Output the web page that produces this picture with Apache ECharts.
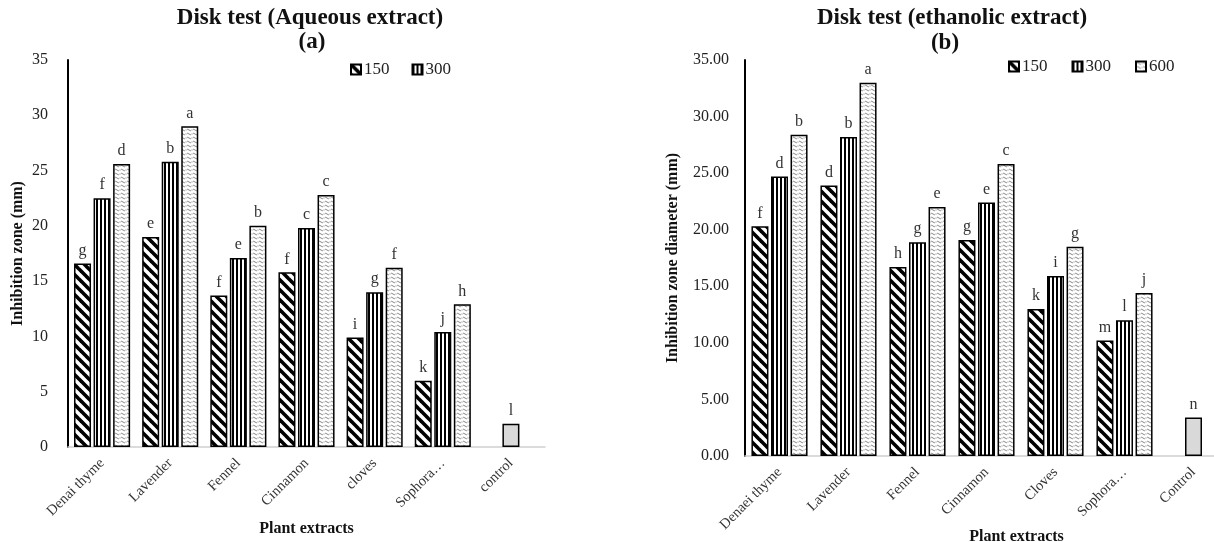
<!DOCTYPE html>
<html>
<head>
<meta charset="utf-8">
<script src="https://cdn.jsdelivr.net/npm/echarts@6/dist/echarts.min.js"></script>
<style>
html,body{margin:0;padding:0;background:#fff}
#main{width:1214px;height:542px}
</style>
</head>
<body>
<div id="main"></div>
<script>
/* global echarts */
// data - aqueous (a)
var catsA = ['Denai thyme', 'Lavender', 'Fennel', 'Cinnamon', 'cloves', 'Sophora\u2026', 'control'];
var aq150 = [16.6, 19.0, 13.7, 15.8, 9.9, 6.0, null];
var aq300 = [22.5, 25.8, 17.1, 19.8, 14.0, 10.4, null];
var aq600 = [25.6, 29.0, 20.0, 22.8, 16.2, 12.9, null];
var aqControl = [null, null, null, null, null, null, 2.1];
var aqLet150 = ['g', 'e', 'f', 'f', 'i', 'k', ''];
var aqLet300 = ['f', 'b', 'e', 'c', 'g', 'j', ''];
var aqLet600 = ['d', 'a', 'b', 'c', 'f', 'h', ''];
var aqLetControl = ['', '', '', '', '', '', 'l'];

// data - ethanolic (b)
var catsB = ['Denaei thyme', 'Lavender', 'Fennel', 'Cinnamon', 'Cloves', 'Sophora\u2026', 'Control'];
var et150 = [20.3, 23.9, 16.7, 19.1, 13.0, 10.2, null];
var et300 = [24.7, 28.2, 18.9, 22.4, 15.9, 12.0, null];
var et600 = [28.4, 33.0, 22.0, 25.8, 18.5, 14.4, null];
var etControl = [null, null, null, null, null, null, 3.4];
var etLet150 = ['f', 'd', 'h', 'g', 'k', 'm', ''];
var etLet300 = ['d', 'b', 'g', 'e', 'i', 'l', ''];
var etLet600 = ['b', 'a', 'e', 'c', 'g', 'j', ''];
var etLetControl = ['', '', '', '', '', '', 'n'];

var yTicks = [0, 5, 10, 15, 20, 25, 30, 35];

var FONT = 'Liberation Serif, Times New Roman, serif';

// fill patterns
function diagPattern() {
    var c = document.createElement('canvas');
    c.width = 10; c.height = 10;
    var g = c.getContext('2d');
    g.fillStyle = '#fff'; g.fillRect(0, 0, 10, 10);
    g.strokeStyle = '#000'; g.lineWidth = 3.6;
    for (var k = -1; k <= 1; k++) {
        g.beginPath();
        g.moveTo(k * 10 - 2, -2);
        g.lineTo(k * 10 + 12, 12);
        g.stroke();
    }
    return c;
}
function vertPattern() {
    var c = document.createElement('canvas');
    c.width = 4; c.height = 4;
    var g = c.getContext('2d');
    g.fillStyle = '#fff'; g.fillRect(0, 0, 4, 4);
    g.fillStyle = '#000'; g.fillRect(0, 0, 2, 4);
    return c;
}
function wavePattern() {
    var c = document.createElement('canvas');
    c.width = 6; c.height = 4;
    var g = c.getContext('2d');
    g.fillStyle = '#fff'; g.fillRect(0, 0, 6, 4);
    g.strokeStyle = '#777'; g.lineWidth = 0.9;
    g.beginPath();
    g.moveTo(0.5, 2);
    g.quadraticCurveTo(1.5, 0.5, 3, 2);
    g.quadraticCurveTo(4.5, 3.5, 5.5, 2);
    g.stroke();
    return c;
}
var fill150 = {image: diagPattern(), repeat: 'repeat'};
var fill300 = {image: vertPattern(), repeat: 'repeat'};
var fill600 = {image: wavePattern(), repeat: 'repeat'};

function barSeries(name, data, letters, fill, xi, yi) {
    return {
        name: name,
        type: 'bar',
        xAxisIndex: xi,
        yAxisIndex: yi,
        data: data,
        barWidth: 17,
        barGap: '15%',
        itemStyle: {color: fill, borderColor: '#000', borderWidth: 1.5},
        label: {
            show: true,
            position: 'top',
            distance: 5,
            fontFamily: FONT,
            fontSize: 16,
            color: '#333',
            formatter: function (p) { return letters[p.dataIndex] || ''; }
        },
        emphasis: {disabled: true},
        animation: false
    };
}

function catAxis(grid, cats, show) {
    return {
        gridIndex: grid,
        type: 'category',
        data: cats,
        show: show,
        axisLine: {lineStyle: {color: '#d0d0d0', width: 1.5}},
        axisTick: {show: false},
        axisLabel: {interval: 0, rotate: 45, fontFamily: FONT, fontSize: 14.5, color: '#333', margin: 14},
        name: 'Plant extracts',
        nameLocation: 'middle',
        nameMoveOverlap: false,
        nameTextStyle: {fontFamily: FONT, fontWeight: 'bold', fontSize: 16, color: '#111'}
    };
}

function valAxis(grid, name, gap, margin, fmt) {
    return {
        gridIndex: grid, type: 'value', min: yTicks[0], max: yTicks[yTicks.length - 1], interval: 5,
        axisLine: {show: true, lineStyle: {color: '#000', width: 2}},
        axisTick: {show: false},
        splitLine: {show: false},
        axisLabel: {fontFamily: FONT, fontSize: 16, color: '#222', margin: margin, formatter: fmt},
        name: name, nameLocation: 'middle', nameGap: gap,
        nameMoveOverlap: false,
        nameTextStyle: {fontFamily: FONT, fontWeight: 'bold', fontSize: 16, color: '#111'}
    };
}

var myChart = echarts.init(document.getElementById('main'));

var xA = catAxis(0, catsA, true); xA.nameGap = 74;
var xA2 = catAxis(0, catsA, false);
var xB = catAxis(1, catsB, true); xB.nameGap = 73;
xB.nameTextStyle.padding = [0, 0, 0, 60];
var xB2 = catAxis(1, catsB, false);

var option = {
    backgroundColor: '#fff',
    animation: false,
    graphic: [
        {type: 'text', x: 310, y: 18, style: {text: 'Disk test (Aqueous extract)', font: 'bold 23px ' + FONT, fill: '#111', textAlign: 'center', textVerticalAlign: 'middle'}},
        {type: 'text', x: 312, y: 42, style: {text: '(a)', font: 'bold 23px ' + FONT, fill: '#111', textAlign: 'center', textVerticalAlign: 'middle'}},
        {type: 'text', x: 952, y: 18, style: {text: 'Disk test (ethanolic extract)', font: 'bold 23px ' + FONT, fill: '#111', textAlign: 'center', textVerticalAlign: 'middle'}},
        {type: 'text', x: 945, y: 43, style: {text: '(b)', font: 'bold 23px ' + FONT, fill: '#111', textAlign: 'center', textVerticalAlign: 'middle'}}
    ],
    legend: [
        {
            data: ['150', '300'], left: 345, top: 56, icon: 'rect', itemWidth: 10, itemHeight: 10, itemGap: 22,
            textStyle: {fontFamily: FONT, fontSize: 17, color: '#222', padding: [0, 0, 0, -2]}
        },
        {
            data: ['150', '300', '600'], left: 1003, top: 53, icon: 'rect', itemWidth: 10, itemHeight: 10, itemGap: 24,
            textStyle: {fontFamily: FONT, fontSize: 17, color: '#222', padding: [0, 0, 0, -2]}
        }
    ],
    grid: [
        {left: 68, top: 60, width: 477, height: 387, outerBoundsMode: 'none'},
        {left: 745, top: 60, width: 483, height: 396, outerBoundsMode: 'none'}
    ],
    xAxis: [xA, xA2, xB, xB2],
    yAxis: [
        valAxis(0, 'Inhibition zone (mm)', 42, 20, null),
        valAxis(1, 'Inhibition zone diameter (mm)', 64, 16, function (v) { return v.toFixed(2); })
    ],
    series: [
        barSeries('150', aq150, aqLet150, fill150, 0, 0),
        barSeries('300', aq300, aqLet300, fill300, 0, 0),
        barSeries('600', aq600, aqLet600, fill600, 0, 0),
        barSeries('control', aqControl, aqLetControl, '#d9d9d9', 1, 0),
        barSeries('150', et150, etLet150, fill150, 2, 1),
        barSeries('300', et300, etLet300, fill300, 2, 1),
        barSeries('600', et600, etLet600, fill600, 2, 1),
        barSeries('control', etControl, etLetControl, '#d9d9d9', 3, 1)
    ]
};
myChart.setOption(option);
</script>
</body>
</html>
